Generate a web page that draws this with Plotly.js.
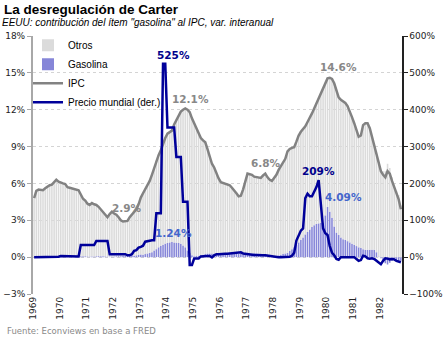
<!DOCTYPE html>
<html><head><meta charset="utf-8">
<script src="https://cdn.plot.ly/plotly-3.0.1.min.js"></script>
<style>html,body{margin:0;padding:0;background:#fff}#chart{width:443px;height:340px}</style>
</head><body><div id="chart"></div>
<script>
// Monthly data, Jan 1969 .. Oct 1982
const yearLabels = ['1969','1970','1971','1972','1973','1974','1975','1976','1977','1978','1979','1980','1981','1982'];
const ipc = [4.8,5.4,5.5,5.45,5.45,5.6,5.75,5.85,5.9,6.1,6.3,6.15,
6.05,6.0,5.95,5.7,5.65,5.6,5.55,5.5,5.45,5.1,4.75,4.6,
4.35,4.25,4.4,4.3,4.25,4.1,3.9,3.7,3.45,3.25,3.5,3.7,
3.55,3.45,3.25,3.0,2.9,2.95,2.95,3.25,3.5,3.65,3.9,4.3,
4.85,5.2,5.55,5.85,6.2,6.7,7.3,7.9,8.3,8.7,9.3,9.7,
10.05,10.15,10.3,10.8,11.2,11.5,11.85,12.0,12.1,12.0,11.8,11.3,
10.9,10.45,10.0,9.7,9.5,9.35,8.8,8.2,7.6,7.3,6.8,6.4,
6.1,6.05,6.0,5.95,5.85,5.65,5.45,5.2,4.95,5.0,5.5,6.2,
6.8,6.75,6.7,6.55,6.5,6.5,6.45,6.65,6.8,6.5,6.3,6.2,
6.45,6.7,7.1,7.4,7.7,8.0,8.6,8.8,8.9,8.95,9.4,9.9,
10.2,10.4,10.65,11.0,11.3,11.7,12.1,12.5,12.9,13.3,13.75,14.2,
14.55,14.6,14.5,14.15,13.5,13.0,12.8,12.7,12.55,12.3,11.9,11.4,
10.9,10.3,9.8,9.9,10.75,10.9,10.9,10.5,9.8,9.0,8.2,7.6,
7.0,6.7,6.5,7.0,6.8,6.2,5.7,5.1,4.7,3.9];
const gasolina = [0.02,0.03,0.03,0.04,0.05,0.05,0.04,0.03,0.03,0.04,0.05,0.05,
0.06,0.06,0.05,0.04,0.04,0.05,0.06,0.06,0.07,0.08,0.08,0.07,
0.06,0.05,0.05,0.06,0.07,0.08,0.08,0.07,0.06,0.05,0.05,0.06,
0.06,0.07,0.08,0.08,0.09,0.10,0.10,0.10,
0.1,0.12,0.15,0.2,0.22,0.2,0.25,0.3,0.35,0.4,0.55,0.65,0.8,0.9,1.0,1.1,1.15,1.2,1.24,1.2,1.18,1.15,1.1,0.95,0.8,0.55,0.35,0.15,0.08,
0.1,0.12,0.15,0.2,0.25,0.3,0.3,0.3,0.28,0.25,
0.25,0.22,0.2,0.2,0.22,0.25,0.28,0.3,0.3,0.28,
0.25,0.2,0.18,0.2,0.25,0.3,0.32,0.3,0.28,0.25,
0.2,0.18,0.15,0.12,0.1,0.08,0.1,
0.15,0.2,0.25,0.3,0.35,0.5,0.65,0.8,1.0,1.2,
1.4,1.6,1.85,2.05,2.25,2.45,2.6,2.7,2.75,2.8,
2.8,3.4,4.09,3.7,3.2,2.5,2.0,1.8,1.6,1.45,
1.4,1.3,1.2,1.1,1.0,0.9,0.8,0.75,0.65,0.6,
0.6,0.6,0.6,0.6,0.4,0.05,-0.1,-0.3,-0.5,-0.6,
-0.45,-0.3,-0.2,-0.3,-0.35,-0.3];
const precioMundial = [0,0,-1,0,0,1,0,0,0,1,1,1,
3,3,3,2,2,2,2,1,2,
33,33,33,33,33,33,33,
44,44,44,44,44,44,
8,8,8,8,8,8,8,8,5,5,8,
17,19,26,28,31,42,44,46,46,46,
119,119,119,
525,525,
352,352,352,352,
272,272,272,
150,150,150,
-21,-21,
-4,-4,-4,
2,3,3,3,3,-1,
5,8,8,9,9,9,9,10,10,11,12,14,13,
10,9,7,6,6,6,6,5,5,5,5,4,2,1,0,0,0,0,0,0,0,1,4,
12,45,58,72,78,160,172,165,165,178,190,209,140,78,65,60,30,12,5,-5,-7,
0,0,1,0,0,1,0,-5,-10,-8,4,2,-3,-4,-3,-5,-10,-15,-19,-10,-3,-4,-6,-5,-6,-10,-13,-14];
// "Otros" = IPC minus the gasoline contribution
const otros = ipc.map((v,i)=> +(v - gasolina[i]).toFixed(2));
const months = ipc.map((_,i)=>i);
const yearTicks = yearLabels.map((_,k)=>12*k-0.5);

const FONT = 'DejaVu Sans, Verdana, sans-serif';
const traces = [
  {type:'bar', name:'Gasolina', x:months, y:gasolina, marker:{color:'#8686D8', line:{width:0}}, legendrank:2, hoverinfo:'skip'},
  {type:'bar', name:'Otros', x:months, y:otros, marker:{color:'#DBDBDB', line:{width:0}}, legendrank:1, hoverinfo:'skip'},
  {type:'scatter', mode:'lines', name:'IPC', x:months, y:ipc, line:{color:'#828282', width:2.5}, legendrank:3, hoverinfo:'skip'},
  {type:'scatter', mode:'lines', name:'Precio mundial (der.)', x:months, y:precioMundial, yaxis:'y2', line:{color:'#00009A', width:2.5}, legendrank:4, hoverinfo:'skip'}
];

function lab(text, x, y, color){
  return {text:text, x:x, y:y, xref:'x', yref:'y', showarrow:false, font:{family:FONT, size:10.5, color:color}, xanchor:'center', yanchor:'middle'};
}
const annotations = [
  lab('<b>525%</b>', 62.5, 16.45, '#00008B'),
  lab('<b>12.1%</b>', 70.4, 12.86, '#888888'),
  lab('<b>2.9%</b>', 41.6, 4.0, '#888888'),
  lab('<b>1.24%</b>', 62.7, 1.96, '#4466CC'),
  lab('<b>6.8%</b>', 104.5, 7.66, '#888888'),
  lab('<b>14.6%</b>', 136.9, 15.47, '#888888'),
  lab('<b>209%</b>', 127.9, 7.0, '#00008B'),
  lab('<b>4.09%</b>', 139.4, 4.89, '#4466CC'),
  {text:'<i>EEUU: contribución del ítem "gasolina" al IPC, var. interanual</i>', xref:'paper', yref:'paper', x:-33/369, y:(294-23)/258, xanchor:'left', yanchor:'middle', showarrow:false, font:{family:'Liberation Sans, Arial, sans-serif', size:10, color:'#000'}},
  {text:'Fuente: Econviews en base a FRED', xref:'paper', yref:'paper', x:-28/369, y:(294-331)/258, xanchor:'left', yanchor:'middle', showarrow:false, font:{family:FONT, size:8.5, color:'#8a8a8a'}}
];

const layout = {
  width:443, height:340,
  margin:{l:33, r:41, t:36, b:46, pad:0},
  paper_bgcolor:'#fff', plot_bgcolor:'#fff',
  font:{family:FONT, size:9, color:'#222'},
  title:{text:'<b>La desregulación de Carter</b>', x:4/443, xanchor:'left', y:1-9/340, yanchor:'middle', font:{family:'Liberation Sans, Arial, sans-serif', size:13.5, color:'#000'}},
  barmode:'relative', bargap:0.3,
  showlegend:true,
  legend:{x:-5/369, y:1.02, xanchor:'left', yanchor:'top', bgcolor:'rgba(0,0,0,0)', font:{family:'Liberation Sans, Arial, sans-serif', size:10, color:'#000'}, traceorder:'normal', itemwidth:30, tracegroupgap:0},
  xaxis:{range:[-0.5,165.5], tickmode:'array', tickvals:yearTicks, ticktext:yearLabels, tickangle:-90, showgrid:false, zeroline:false, showline:false, ticks:'', tickfont:{size:9, family:FONT}, anchor:'y'},
  xaxis2:{overlaying:'x', anchor:'free', position:3/21, side:'bottom', range:[-0.5,165.5], tickmode:'array', tickvals:yearTicks, showticklabels:false, ticks:'outside', ticklen:4, tickcolor:'#999', showline:true, linecolor:'#999', linewidth:1.5, showgrid:false, zeroline:false},
  yaxis:{range:[-3,18], tickmode:'linear', tick0:-3, dtick:3, ticksuffix:'%', showgrid:true, gridcolor:'#D4D4D4', griddash:'dot', gridwidth:1, zeroline:false, showline:true, linecolor:'#A8A8A8', linewidth:2, ticks:'outside', ticklen:4, tickcolor:'#A8A8A8', tickfont:{size:9, family:FONT}},
  yaxis2:{overlaying:'y', side:'right', range:[-100,600], tickmode:'linear', tick0:-100, dtick:100, ticksuffix:'%', showgrid:false, zeroline:false, showline:true, linecolor:'#222', linewidth:1.5, ticks:'outside', ticklen:4, tickcolor:'#222', tickfont:{size:9, family:FONT}},
  annotations:annotations
};
Plotly.newPlot('chart', traces, layout, {staticPlot:true, displayModeBar:false});
</script></body></html>
